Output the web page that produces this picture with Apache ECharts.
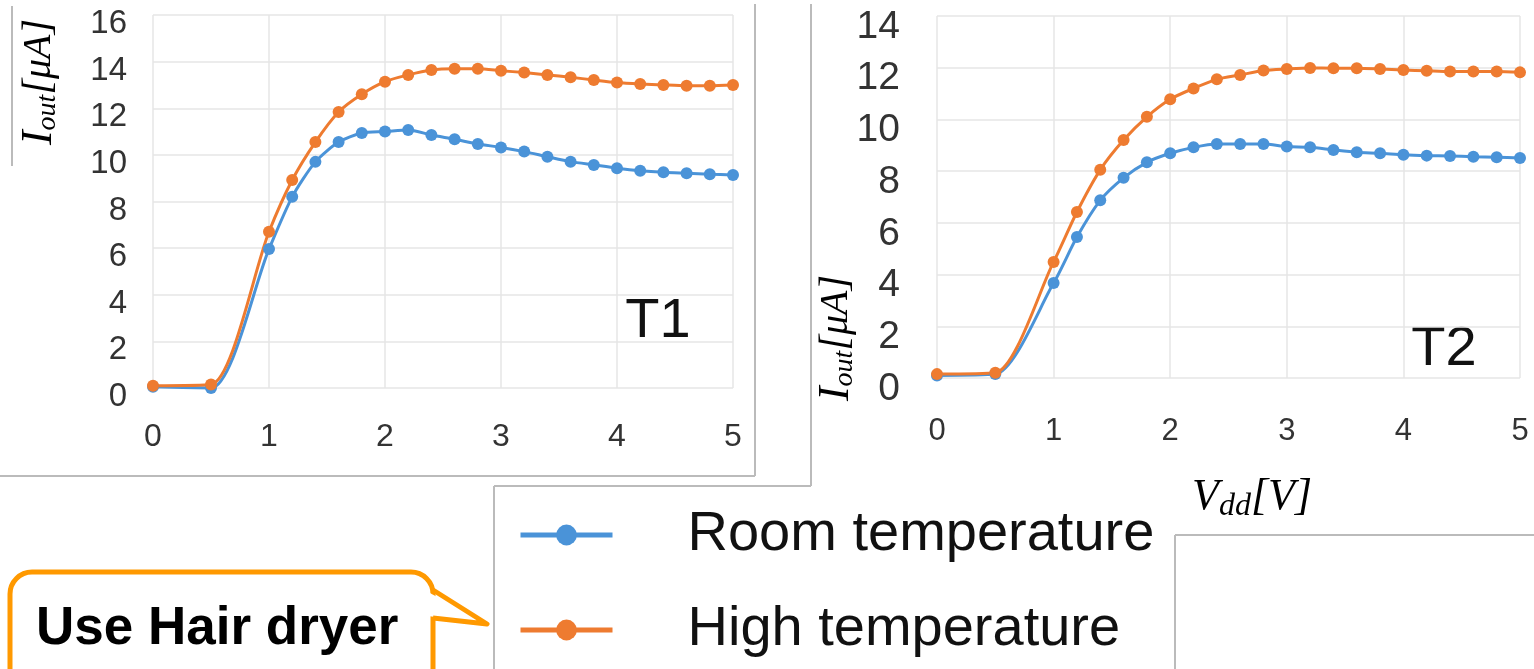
<!DOCTYPE html>
<html>
<head>
<meta charset="utf-8">
<script src="https://cdn.jsdelivr.net/npm/echarts@6/dist/echarts.min.js"></script>
<style>
html,body{margin:0;padding:0;background:#fff;}
#c{width:1534px;height:669px;}
</style>
</head>
<body>
<div id="c"></div>
<script>
// ---- data ----
var vdd = [0, 0.5, 1.0, 1.2, 1.4, 1.6, 1.8, 2.0, 2.2, 2.4, 2.6, 2.8, 3.0, 3.2, 3.4, 3.6, 3.8, 4.0, 4.2, 4.4, 4.6, 4.8, 5.0];
var t1Room = [0.05, 0.0, 5.96, 8.2, 9.7, 10.55, 10.94, 11.0, 11.07, 10.85, 10.67, 10.47, 10.32, 10.14, 9.92, 9.71, 9.57, 9.43, 9.32, 9.25, 9.21, 9.17, 9.14];
var t1High = [0.1, 0.15, 6.7, 8.92, 10.55, 11.84, 12.6, 13.14, 13.43, 13.64, 13.69, 13.69, 13.61, 13.53, 13.43, 13.33, 13.21, 13.1, 13.04, 13.0, 12.97, 12.97, 13.0];
var t2Room = [0.1, 0.15, 3.67, 5.45, 6.87, 7.74, 8.34, 8.69, 8.92, 9.05, 9.05, 9.05, 8.95, 8.92, 8.82, 8.73, 8.69, 8.63, 8.6, 8.59, 8.56, 8.54, 8.51];
var t2High = [0.15, 0.2, 4.49, 6.42, 8.05, 9.2, 10.1, 10.78, 11.2, 11.55, 11.72, 11.89, 11.95, 11.99, 11.98, 11.98, 11.95, 11.91, 11.88, 11.85, 11.85, 11.85, 11.82];
var seriesNames = ['Room temperature', 'High temperature'];
var panelLabels = ['T1', 'T2'];
var calloutText = 'Use Hair dryer';

function pairs(ys){ return vdd.map(function(x,i){ return [x, ys[i]]; }); }

var BLUE = '#4a93d8', ORANGE = '#ee7b30';
var chart = echarts.init(document.getElementById('c'));

function mkSeries(name, data, color, idx){
  return {
    name: name, type: 'line', xAxisIndex: idx, yAxisIndex: idx,
    data: pairs(data), smooth: 0.25, clip: false,
    symbol: 'circle', symbolSize: 12,
    itemStyle: {color: color},
    lineStyle: {color: color, width: 3}
  };
}

var gridLine = {show: true, lineStyle: {color: '#e6e6e6', width: 1.5}};
var serifRich = {
  i: {fontFamily: 'Liberation Serif', fontStyle: 'italic', fontSize: 44, color: '#222'},
  s: {fontFamily: 'Liberation Serif', fontStyle: 'italic', fontSize: 28, color: '#222', padding: [18,0,0,0]},
  b: {fontFamily: 'Liberation Serif', fontStyle: 'italic', fontSize: 40, color: '#222'}
};
var frame = {stroke: '#bbb', lineWidth: 2};

var option = {
  backgroundColor: '#fff',
  animation: false,
  grid: [
    {left: 153, right: 801, top: 15, bottom: 281},
    {left: 937, right: 14, top: 16, bottom: 291}
  ],
  xAxis: [
    {type: 'value', gridIndex: 0, min: 0, max: 5, interval: 1,
     axisLine: {show: false}, axisTick: {show: false}, splitLine: gridLine,
     axisLabel: {fontSize: 32, color: '#333', fontFamily: 'Liberation Sans', margin: 33}},
    {type: 'value', gridIndex: 1, min: 0, max: 5, interval: 1,
     axisLine: {show: false}, axisTick: {show: false}, splitLine: gridLine,
     axisLabel: {fontSize: 31, color: '#333', fontFamily: 'Liberation Sans', margin: 38}}
  ],
  yAxis: [
    {type: 'value', gridIndex: 0, min: 0, max: 16, interval: 2,
     axisLine: {show: false}, axisTick: {show: false}, splitLine: gridLine,
     axisLabel: {fontSize: 33, color: '#333', fontFamily: 'Liberation Sans', margin: 26, verticalAlign: 'top', lineHeight: 18}},
    {type: 'value', gridIndex: 1, min: 0, max: 14, interval: 2,
     axisLine: {show: false}, axisTick: {show: false}, splitLine: gridLine,
     axisLabel: {fontSize: 39, color: '#333', fontFamily: 'Liberation Sans', margin: 37, verticalAlign: 'top', lineHeight: 22}}
  ],
  legend: {
    show: true, orient: 'vertical', left: 513, top: 502,
    itemWidth: 92, itemHeight: 26, itemGap: 39,
    data: seriesNames,
    lineStyle: {width: 5},
    textStyle: {fontSize: 56, color: '#111', fontFamily: 'Liberation Sans', lineHeight: 56, padding: [0,0,0,70]}
  },
  series: [
    mkSeries(seriesNames[0], t1Room, BLUE, 0),
    mkSeries(seriesNames[1], t1High, ORANGE, 0),
    mkSeries(seriesNames[0], t2Room, BLUE, 1),
    mkSeries(seriesNames[1], t2High, ORANGE, 1)
  ],
  graphic: [
    // frames of the collage
    {type: 'line', shape: {x1: 12, y1: 6, x2: 12, y2: 166}, style: frame},
    {type: 'line', shape: {x1: 0, y1: 476, x2: 755, y2: 476}, style: frame},
    {type: 'line', shape: {x1: 755, y1: 4, x2: 755, y2: 476}, style: frame},
    {type: 'line', shape: {x1: 811, y1: 4, x2: 811, y2: 486}, style: frame},
    {type: 'line', shape: {x1: 494, y1: 486, x2: 811, y2: 486}, style: frame},
    {type: 'line', shape: {x1: 494, y1: 486, x2: 494, y2: 669}, style: frame},
    {type: 'line', shape: {x1: 1175, y1: 535, x2: 1534, y2: 535}, style: frame},
    {type: 'line', shape: {x1: 1175, y1: 535, x2: 1175, y2: 669}, style: frame},
    // axis names
    {type: 'text', x: 39, y: 82, rotation: Math.PI/2,
     style: {text: '{i|I}{s|out}{b|[μA]}', rich: serifRich, align: 'center', verticalAlign: 'middle'}},
    {type: 'text', x: 836, y: 338, rotation: Math.PI/2,
     style: {text: '{i|I}{s|out}{b|[μA]}', rich: serifRich, align: 'center', verticalAlign: 'middle'}},
    {type: 'text', x: 1252, y: 497,
     style: {text: '{i|V}{s|dd}{b|[V]}', align: 'center', verticalAlign: 'middle',
       rich: {
         i: {fontFamily: 'Liberation Serif', fontStyle: 'italic', fontSize: 44, color: '#22224a'},
         s: {fontFamily: 'Liberation Serif', fontStyle: 'italic', fontSize: 32, color: '#22224a', padding: [20,0,0,0]},
         b: {fontFamily: 'Liberation Serif', fontStyle: 'italic', fontSize: 44, color: '#22224a'}
       }}},
    // panel labels
    {type: 'text', x: 658, y: 322, style: {text: panelLabels[0], fontSize: 56, fontFamily: 'Liberation Sans', fill: '#111', align: 'center', verticalAlign: 'middle'}},
    {type: 'text', x: 1444, y: 350, style: {text: panelLabels[1], fontSize: 56, fontFamily: 'Liberation Sans', fill: '#111', align: 'center', verticalAlign: 'middle'}},
    // callout
    {type: 'rect', shape: {x: 10, y: 572, width: 423, height: 130, r: 22},
     style: {stroke: '#ff9900', lineWidth: 5, fill: '#fff'}},
    {type: 'polygon', shape: {points: [[428, 592], [487, 624], [428, 616]]},
     style: {fill: '#fff', stroke: null}},
    {type: 'polyline', shape: {points: [[433, 590], [487, 624], [433, 618]]},
     style: {stroke: '#ff9900', lineWidth: 5, fill: null, lineJoin: 'round'}},
    {type: 'text', x: 36, y: 629, style: {text: calloutText, fontSize: 53, fontWeight: 'bold', fontFamily: 'Liberation Sans', fill: '#000', align: 'left', verticalAlign: 'middle'}}
  ]
};
chart.setOption(option);
</script>
</body>
</html>
